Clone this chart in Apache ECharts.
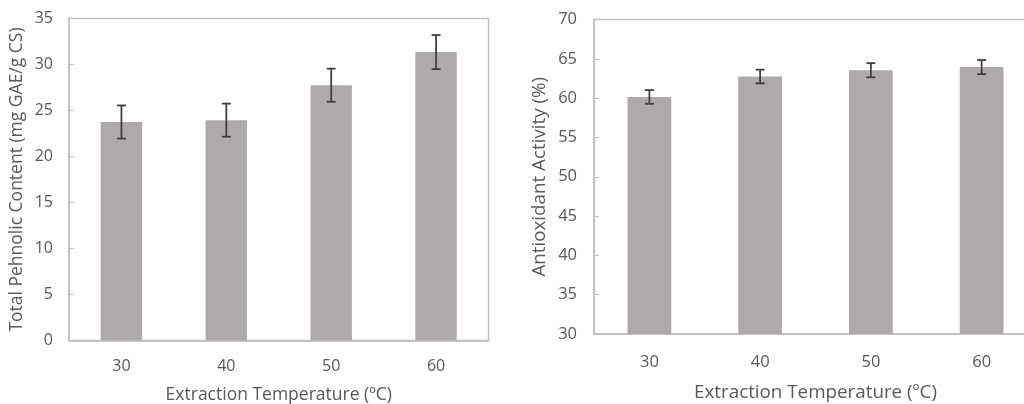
<!DOCTYPE html>
<html>
<head>
<meta charset="utf-8">
<script src="https://cdn.jsdelivr.net/npm/echarts@6/dist/echarts.min.js"></script>
<style>
html,body{margin:0;padding:0;background:#fff;}
#c{width:1024px;height:404px;}
</style>
</head>
<body>
<div id="c"></div>
<script>
var categories = ['30', '40', '50', '60'];
var phenolicValues = [23.75, 23.95, 27.75, 31.35];
var phenolicErrors = [1.8, 1.8, 1.8, 1.85];
var antioxValues = [60.15, 62.75, 63.55, 63.95];
var antioxErrors = [0.87, 0.87, 0.9, 0.9];
var phenolicTicks = {min: 0, max: 35, interval: 5};
var antioxTicks = {min: 30, max: 70, interval: 5};

var FONT = 'Open Sans';
var TXT = '#595959';
var AX = '#bfbfbf';
var BAR = '#aeaaa9';

function errData(vals, errs) {
  return vals.map(function (v, i) { return [i, v - errs[i], v + errs[i]]; });
}
function errRender(params, api) {
  var x = api.value(0);
  var lo = api.coord([x, api.value(1)]);
  var hi = api.coord([x, api.value(2)]);
  var cap = 4.5;
  var st = {stroke: '#404040', lineWidth: 1.8};
  return {
    type: 'group',
    children: [
      {type: 'line', shape: {x1: hi[0], y1: hi[1], x2: lo[0], y2: lo[1]}, style: st},
      {type: 'line', shape: {x1: hi[0] - cap, y1: hi[1], x2: hi[0] + cap, y2: hi[1]}, style: st},
      {type: 'line', shape: {x1: lo[0] - cap, y1: lo[1], x2: lo[0] + cap, y2: lo[1]}, style: st}
    ]
  };
}

var chart = echarts.init(document.getElementById('c'), null, {renderer: 'canvas'});
chart.setOption({
  animation: false,
  backgroundColor: '#fff',
  textStyle: {fontFamily: FONT, color: TXT},
  grid: [
    {left: 69, top: 18.5, width: 419.5, height: 322, show: true, borderColor: AX, borderWidth: 1.5, backgroundColor: 'transparent', containLabel: false, outerBoundsMode: 'none'},
    {left: 594, top: 19.5, width: 443, height: 314.5, show: true, borderColor: AX, borderWidth: 1.5, backgroundColor: 'transparent', containLabel: false, outerBoundsMode: 'none'}
  ],
  xAxis: [
    {type: 'category', gridIndex: 0, data: categories,
     axisLine: {lineStyle: {color: AX, width: 1.5}}, axisTick: {show: false},
     axisLabel: {color: TXT, fontFamily: FONT, fontSize: 16, margin: 18},
     name: 'Extraction Temperature (ºC)', nameLocation: 'middle', nameGap: 45.5,
     nameTextStyle: {color: TXT, fontFamily: FONT, fontSize: 17.5}},
    {type: 'category', gridIndex: 1, data: categories,
     axisLine: {lineStyle: {color: AX, width: 1.5}}, axisTick: {show: false},
     axisLabel: {color: TXT, fontFamily: FONT, fontSize: 16.5, margin: 20},
     name: 'Extraction Temperature (ºC)', nameLocation: 'middle', nameGap: 49,
     nameTextStyle: {color: TXT, fontFamily: FONT, fontSize: 18.8}}
  ],
  yAxis: [
    {type: 'value', gridIndex: 0, min: phenolicTicks.min, max: phenolicTicks.max, interval: phenolicTicks.interval,
     axisLine: {show: true, lineStyle: {color: AX, width: 1.5}},
     axisTick: {show: true, inside: true, length: 5, lineStyle: {color: AX, width: 1}},
     splitLine: {show: false},
     axisLabel: {color: TXT, fontFamily: FONT, fontSize: 16, margin: 16},
     name: 'Total Pehnolic Content (mg GAE/g CS)', nameLocation: 'middle', nameGap: 43,
     nameTextStyle: {color: TXT, fontFamily: FONT, fontSize: 17.5}},
    {type: 'value', gridIndex: 1, min: antioxTicks.min, max: antioxTicks.max, interval: antioxTicks.interval,
     axisLine: {show: true, lineStyle: {color: AX, width: 1.5}},
     axisTick: {show: true, inside: true, length: 5, lineStyle: {color: AX, width: 1}},
     splitLine: {show: false},
     axisLabel: {color: TXT, fontFamily: FONT, fontSize: 16.5, margin: 17},
     name: 'Antioxidant Activity (%)', nameLocation: 'middle', nameGap: 45,
     nameTextStyle: {color: TXT, fontFamily: FONT, fontSize: 18.8}}
  ],
  series: [
    {type: 'bar', xAxisIndex: 0, yAxisIndex: 0, data: phenolicValues, barWidth: '39.5%', itemStyle: {color: BAR}},
    {type: 'custom', xAxisIndex: 0, yAxisIndex: 0, data: errData(phenolicValues, phenolicErrors), renderItem: errRender, z: 10},
    {type: 'bar', xAxisIndex: 1, yAxisIndex: 1, data: antioxValues, barWidth: '39.5%', itemStyle: {color: BAR}},
    {type: 'custom', xAxisIndex: 1, yAxisIndex: 1, data: errData(antioxValues, antioxErrors), renderItem: errRender, z: 10}
  ]
});
</script>
</body>
</html>
